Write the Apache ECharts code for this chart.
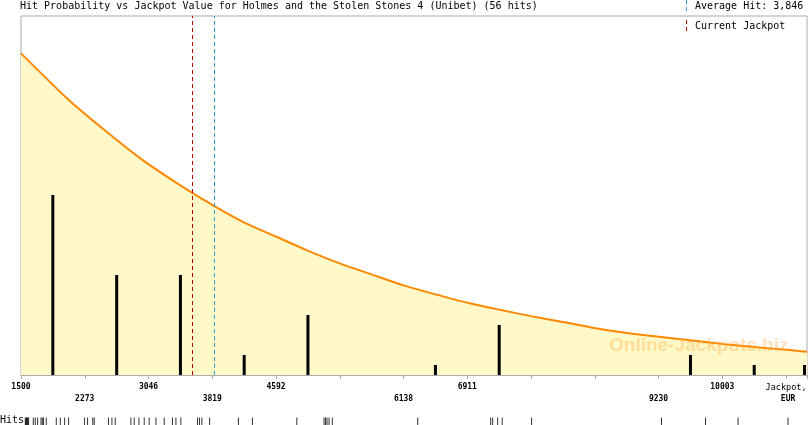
<!DOCTYPE html>
<html lang="en" style="height: 100%">
<head>
  <meta charset="utf-8">
</head>
<body style="height: 100%; margin: 0; background: #fff">
  <div id="container" style="width: 810px; height: 425px"></div>

  <script type="text/javascript" src="https://cdn.jsdelivr.net/npm/echarts@6/dist/echarts.min.js"></script>

  <script type="text/javascript">
    // jackpot values (EUR) at which the 56 hits happened
    const hits = [
      1552, 1560, 1567, 1576, 1584, 1592, 1649, 1673, 1701, 1742, 1758, 1773,
      1806, 1927, 1976, 2028, 2076, 2270,
      2306, 2369, 2387, 2560, 2601, 2641, 2831, 2871, 2928, 2992,
      3052, 3134, 3234, 3334, 3376, 3436, 3637, 3661, 3690, 3784,
      4133, 4302,
      4840, 5170, 5188, 5206, 5230, 5270,
      6304,
      7187, 7211, 7272, 7327, 7683,
      9256, 9789,
      10183,
      10788
    ];

    // histogram bars: position and number of hits
    const barX = [1886, 2660, 3433, 4206, 4979, 6525, 7298, 9617, 10390, 11000];
    const barCount = [18, 10, 10, 2, 6, 1, 5, 2, 1, 1];

    // hit probability curve (relative, % of plot height)
    const curveX = [1500, 2057, 2460, 2943, 3427, 3855, 4214, 4598, 4961,
      5364, 5766, 6150, 6503, 6916, 7320, 7683, 8086, 8449, 8852, 9215, 9619,
      10022, 10425, 10788, 11030];
    const curveY = [89.6, 77.1, 69.2, 60.4, 52.9, 46.9, 42.4, 38.5, 34.8,
      31.1, 27.9, 24.9, 22.6, 20.1, 18.1, 16.4, 14.7, 13.1, 11.7, 10.7, 9.7,
      8.6, 7.7, 7.0, 6.5];

    const currentJackpot = 3581;
    const averageHit = 3846;

    const topLabels = [1500, 3046, 4592, 6911, 10003];
    const bottomLabels = [2273, 3819, 6138, 9230];
    const axisNameTick = 10776;

    const title = 'Hit Probability vs Jackpot Value for Holmes and the Stolen Stones 4 (Unibet) (56 hits)';

    const MONO = '"DejaVu Sans Mono", monospace';
    const xMin = 1500, xMax = 11030, step = 773;

    var dom = document.getElementById('container');
    var myChart = echarts.init(dom, null, { renderer: 'canvas' });

    var option = {
      animation: false,
      grid: [
        { left: 21, right: 2, top: 16, bottom: 50, show: true, borderColor: '#aaa', borderWidth: 1 },
        { left: 21, right: 2, top: 418, height: 8 }
      ],
      xAxis: [
        {
          type: 'value', gridIndex: 0, min: xMin, max: xMax, interval: step,
          splitLine: { show: false },
          axisLine: { show: true, lineStyle: { color: '#aaa', width: 1 } },
          axisTick: { show: true, length: 4, lineStyle: { color: '#aaa' } },
          axisLabel: {
            show: true, margin: 7, showMinLabel: true, showMaxLabel: true,
            hideOverlap: false, lineHeight: 12,
            formatter: function (v) {
              if (topLabels.indexOf(v) >= 0) return '{n|' + v + '}';
              if (bottomLabels.indexOf(v) >= 0) return '{s| }\n{n|' + v + '}';
              if (v === axisNameTick) return '{j|Jackpot,}\n{e|EUR}';
              return '';
            },
            rich: {
              s: { fontSize: 8, lineHeight: 12 },
              n: { fontFamily: MONO, fontSize: 8, fontWeight: 'bold', color: '#000', lineHeight: 10 },
              j: { fontFamily: MONO, fontSize: 8.5, color: '#000', lineHeight: 11 },
              e: { fontFamily: MONO, fontSize: 8, fontWeight: 'bold', color: '#000', lineHeight: 11, padding: [1, 0, 0, 4] }
            }
          }
        },
        {
          type: 'value', gridIndex: 1, min: xMin, max: xMax,
          show: false
        }
      ],
      yAxis: [
        { type: 'value', gridIndex: 0, min: 0, max: 35.9, show: false, splitLine: { show: false } },
        { type: 'value', gridIndex: 0, min: 0, max: 100, show: false, splitLine: { show: false } },
        { type: 'value', gridIndex: 1, min: 0, max: 1, show: false, splitLine: { show: false } }
      ],
      series: [
        {
          type: 'line',
          xAxisIndex: 0, yAxisIndex: 1,
          data: curveX.map(function (x, i) { return [x, curveY[i]]; }),
          smooth: 0.25,
          symbol: 'none',
          lineStyle: { color: '#ff8800', width: 2 },
          areaStyle: { color: '#fff8c8', opacity: 1 },
          z: 1
        },
        {
          type: 'bar',
          xAxisIndex: 0, yAxisIndex: 0,
          data: barX.map(function (x, i) { return [x, barCount[i]]; }),
          barWidth: 3,
          itemStyle: { color: '#000' },
          z: 3,
          markLine: {
            silent: true,
            symbol: ['none', 'none'],
            label: { show: false },
            data: [
              { xAxis: currentJackpot, lineStyle: { color: '#bb0000', type: [4, 3], width: 1 } },
              { xAxis: averageHit, lineStyle: { color: '#3399cc', type: [4, 3], width: 1 } }
            ]
          }
        },
        {
          type: 'scatter',
          xAxisIndex: 1, yAxisIndex: 2,
          data: hits.map(function (h) { return [h, 0.5]; }),
          symbol: 'rect',
          symbolSize: [1, 8],
          itemStyle: { color: '#000' },
          silent: true
        }
      ],
      graphic: {
        elements: [
          {
            type: 'text', left: 20, top: 1,
            style: { text: title, font: '10px ' + MONO, fill: '#000' }
          },
          {
            type: 'line', shape: { x1: 686.5, y1: 0, x2: 686.5, y2: 11 },
            style: { stroke: '#3399cc', lineWidth: 1, lineDash: [4, 3] }
          },
          {
            type: 'text', left: 695, top: 1,
            style: { text: 'Average Hit: 3,846', font: '10px ' + MONO, fill: '#000' }
          },
          {
            type: 'line', shape: { x1: 686.5, y1: 20, x2: 686.5, y2: 33 },
            style: { stroke: '#bb0000', lineWidth: 1, lineDash: [4, 3] }
          },
          {
            type: 'text', left: 695, top: 21,
            style: { text: 'Current Jackpot', font: '10px ' + MONO, fill: '#000' }
          },
          {
            type: 'text', left: 609, top: 336, z: 2,
            style: { text: 'Online-Jackpots.biz', font: 'bold 19px "Liberation Sans", Arial, sans-serif', fill: 'rgba(255, 165, 50, 0.32)' }
          },
          {
            type: 'text', left: 0, top: 415,
            style: { text: 'Hits', font: '10px ' + MONO, fill: '#000' }
          }
        ]
      }
    };

    myChart.setOption(option);
    window.addEventListener('resize', myChart.resize);
  </script>
</body>
</html>
